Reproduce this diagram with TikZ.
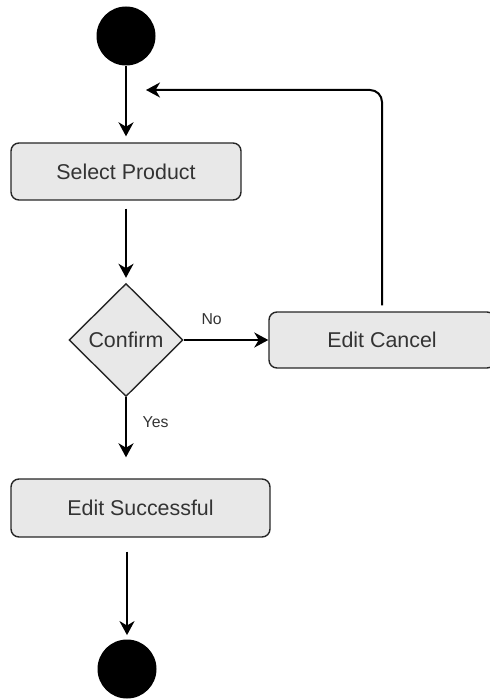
\documentclass[tikz,border=0pt]{standalone}
\usepackage{fontspec}
\setmainfont{Liberation Sans}
\usetikzlibrary{arrows.meta,shapes.geometric}

\begin{document}
\begin{tikzpicture}[x=0.5pt, y=-0.5pt,
  act/.style={draw=black!85, fill=black!9, rounded corners=4pt, line width=0.7pt,
    text=black!80, font=\fontsize{10.7}{13}\selectfont, inner sep=0pt},
  dec/.style={diamond, draw=black!85, fill=black!9, line width=0.7pt, aspect=1,
    text=black!80, font=\fontsize{10.7}{13}\selectfont, inner sep=0pt,
    minimum width=57pt, minimum height=56.5pt},
  dot/.style={circle, fill=black, inner sep=0pt, minimum size=29.5pt},
  flow/.style={-{Stealth[length=7pt,width=7.5pt,inset=2.2pt]}, line width=1pt},
  lbl/.style={font=\fontsize{7.9}{9}\selectfont, text=black!80}]
\useasboundingbox (0,0) rectangle (490,700);

\node [dot]                                              (start)   at (126,36)    {};
\node [act, minimum width=115pt, minimum height=28.5pt]  (select)  at (126,171.5) {Select Product};
\node [dec]                                              (confirm) at (126,340)   {Confirm};
\node [act, minimum width=113pt, minimum height=28pt]    (cancel)  at (382,340)   {Edit Cancel};
\node [act, minimum width=129.5pt, minimum height=29pt]  (success) at (140.5,508) {Edit Successful};
\node [dot]                                              (end)     at (127,669)   {};
\coordinate (back) at (146,90);

\draw [flow, shorten >=3pt] (start) to (select);
\draw [flow, shorten <=4pt, shorten >=2.5pt] (select) to (confirm);
\draw [flow] (confirm) to node [lbl, pos=0.33, above=4pt] {No} (cancel);
\draw [flow, shorten >=10.5pt] (confirm) to node [lbl, pos=0.31, right=4.5pt] {Yes} (confirm |- success.north);
\draw [flow, shorten <=7pt, shorten >=2pt] (end |- success.south) to (end);
\draw [flow, rounded corners=6pt, shorten <=3pt] (cancel.north) |- (back);
\end{tikzpicture}
\end{document}
